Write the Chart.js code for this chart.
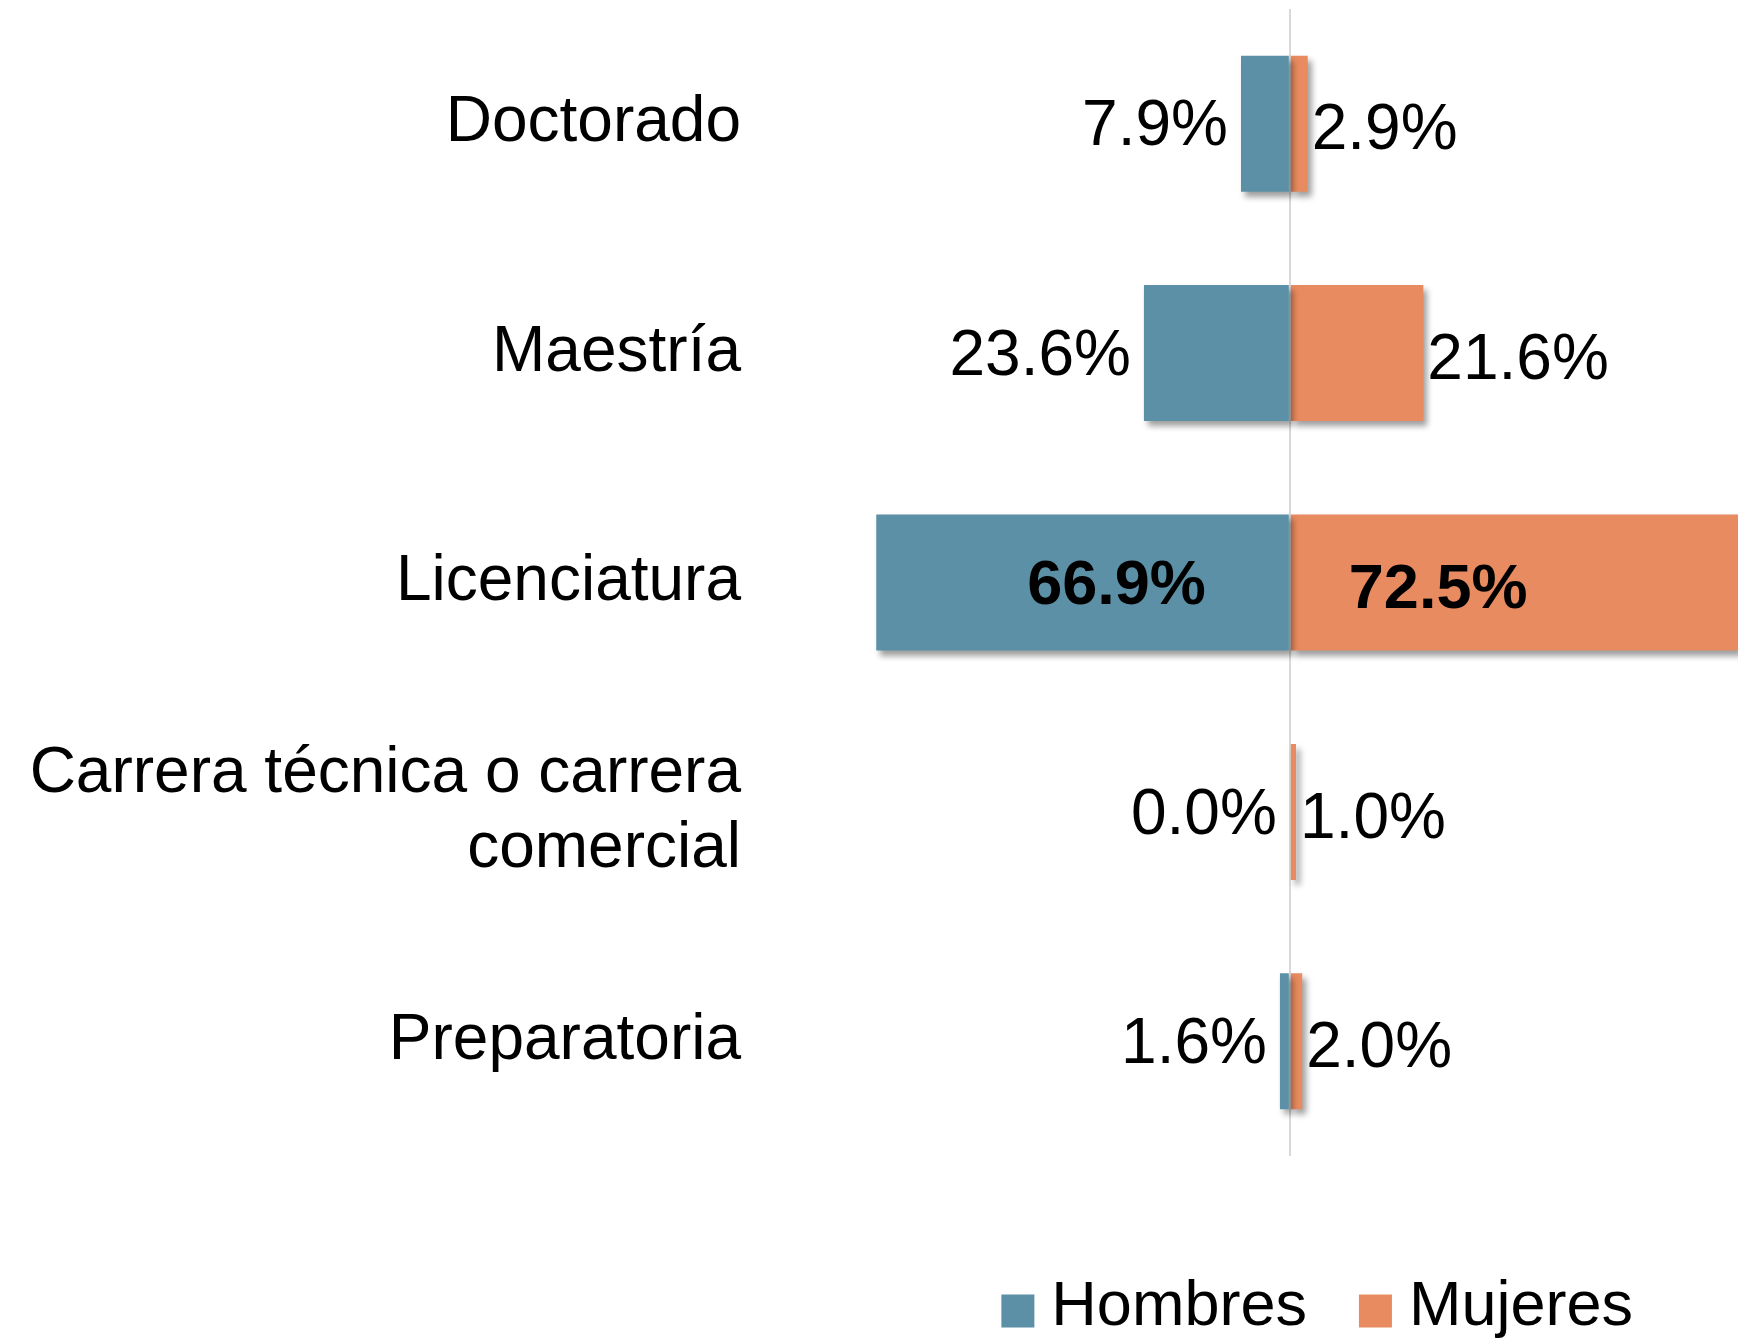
<!DOCTYPE html>
<html lang="es">
<head>
<meta charset="utf-8">
<title>Escolaridad por sexo</title>
<script src="https://cdn.jsdelivr.net/npm/chart.js@4"></script>
<style>
    html, body { margin: 0; padding: 0; background: #ffffff; }
    #wrap { width: 1738px; height: 1343px; position: relative; }
</style>
</head>
<body>
<div id="wrap"><canvas id="chart"></canvas></div>
<script>
// ── Data ──────────────────────────────────────────────────────────────────────

const categories = ['Doctorado', 'Maestría', 'Licenciatura', ['Carrera técnica o carrera', 'comercial'], 'Preparatoria'];
const seriesNames = ['Hombres', 'Mujeres'];
const hombres = [7.9, 23.6, 66.9, 0.0, 1.6];
const mujeres = [2.9, 21.6, 72.5, 1.0, 2.0];

const colors = ['#5B90A7', '#E98B60'];
const fontFamily = "'Liberation Sans', Arial, sans-serif";
const fontSize = 64;

// ── Plugins ───────────────────────────────────────────────────────────────────

// drop shadow under the bars
const barShadow = {
    id: 'barShadow',
    beforeDatasetDraw(chart) {
        const { ctx } = chart;
        ctx.save();
        ctx.shadowColor = 'rgba(0,0,0,0.38)';
        ctx.shadowBlur = 6;
        ctx.shadowOffsetX = 4;
        ctx.shadowOffsetY = 5;
    },
    afterDatasetDraw(chart) {
        chart.ctx.restore();
    },
};

// value labels, outside the bar end, bold inside for the big bars
const valueLabels = {
    id: 'valueLabels',
    afterDraw(chart) {
        const { ctx } = chart;
        const zero = chart.scales.x.getPixelForValue(0);
        ctx.save();
        ctx.fillStyle = '#000000';
        ctx.textBaseline = 'middle';
        chart.data.datasets.forEach((ds, di) => {
            const meta = chart.getDatasetMeta(di);
            meta.data.forEach((bar, i) => {
                const raw = Math.abs(ds.data[i]);
                const text = raw.toFixed(1) + '%';
                const left = di === 0;
                const inside = raw > 50;
                ctx.font = `${inside ? 'bold 63px' : fontSize + 'px'} ${fontFamily}`;
                ctx.textAlign = left ? 'right' : 'left';
                let x;
                if (inside) {
                    x = left ? zero - 84 : zero + 59;
                } else {
                    x = left ? bar.x - 13 : bar.x + 4;
                }
                ctx.fillText(text, x, bar.y + (left ? 4 : 8));
            });
        });
        ctx.restore();
    },
};

// legend at the bottom right
const bottomLegend = {
    id: 'bottomLegend',
    afterDraw(chart) {
        const { ctx } = chart;
        const box = 33;
        const boxGap = 17;
        const itemGap = 52;
        const y = chart.height - 32;
        ctx.save();
        ctx.font = `63px ${fontFamily}`;
        const widths = seriesNames.map((n) => ctx.measureText(n).width);
        const total = widths.reduce((s, w) => s + w + box + boxGap, 0) + itemGap * (seriesNames.length - 1);
        let x = chart.width - 105 - total;
        seriesNames.forEach((name, i) => {
            ctx.fillStyle = colors[i];
            ctx.fillRect(x, y - box / 2, box, box);
            x += box + boxGap;
            ctx.fillStyle = '#000000';
            ctx.textAlign = 'left';
            ctx.textBaseline = 'middle';
            ctx.fillText(name, x, y - 3);
            x += widths[i] + itemGap;
        });
        ctx.restore();
    },
};

// ── Chart ─────────────────────────────────────────────────────────────────────

new Chart(document.getElementById('chart'), {
    type: 'bar',
    data: {
        labels: categories,
        datasets: [
            {
                label: seriesNames[0],
                data: hombres.map((v) => -v),
                backgroundColor: colors[0],
                borderWidth: 0,
                barPercentage: 0.593,
                categoryPercentage: 1,
            },
            {
                label: seriesNames[1],
                data: mujeres,
                backgroundColor: colors[1],
                borderWidth: 0,
                barPercentage: 0.593,
                categoryPercentage: 1,
            },
        ],
    },
    options: {
        indexAxis: 'y',
        responsive: true,
        maintainAspectRatio: false,
        animation: false,
        layout: { padding: { top: 9, bottom: 187, left: 0, right: 0 } },
        plugins: {
            legend: { display: false },
            tooltip: { enabled: false },
        },
        scales: {
            x: {
                stacked: true,
                min: -87,
                max: 72.5,
                z: 1,
                afterBuildTicks(scale) { scale.ticks = [{ value: 0 }]; },
                afterFit(scale) {
                    scale.height = 0;
                    scale.paddingLeft = 0;
                    scale.paddingRight = 0;
                },
                ticks: { display: false },
                border: { display: false },
                grid: {
                    drawTicks: false,
                    color: (c) => (c.tick && c.tick.value === 0 ? '#D9D9D9' : 'transparent'),
                    lineWidth: 2,
                },
            },
            y: {
                stacked: true,
                afterFit(scale) {
                    scale.width = 752;
                    scale.paddingTop = 0;
                    scale.paddingBottom = 0;
                },
                border: { display: false },
                grid: { display: false, drawTicks: false },
                ticks: {
                    color: '#000000',
                    padding: 11,
                    font: { family: fontFamily, size: fontSize, lineHeight: 1.17 },
                },
            },
        },
    },
    plugins: [barShadow, valueLabels, bottomLegend],
});
</script>
</body>
</html>
